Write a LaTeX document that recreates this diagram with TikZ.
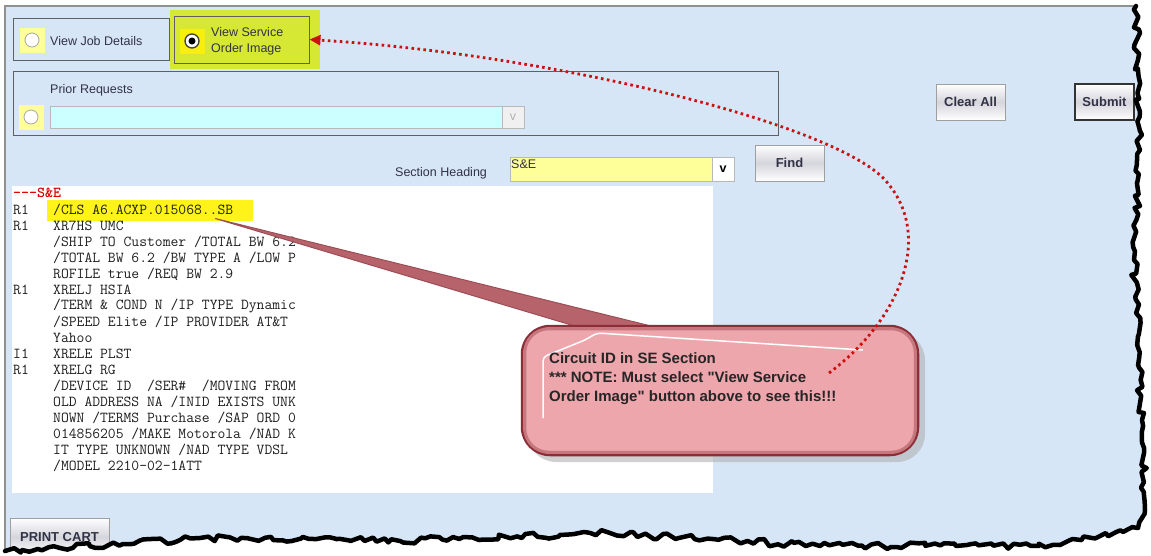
\documentclass[tikz,border=0pt]{standalone}
\usepackage{fontspec}
\setmainfont{Liberation Sans}
\usetikzlibrary{arrows.meta, decorations.pathmorphing, positioning}
\definecolor{panelblue}{RGB}{214,230,246}
\definecolor{framegray}{RGB}{96,96,96}
\definecolor{radioyellow}{RGB}{255,255,153}
\definecolor{limehi}{RGB}{214,232,52}
\definecolor{fieldcyan}{RGB}{204,255,255}
\definecolor{notepink}{RGB}{236,166,172}
\definecolor{notedark}{RGB}{140,45,55}
\definecolor{dotred}{RGB}{204,17,17}
\definecolor{uitext}{RGB}{50,50,70}
\newcommand{\uifnt}{\fontsize{12.5}{16}\selectfont}
\newcommand{\btnfnt}{\fontsize{13}{15}\selectfont\bfseries}
\newcommand{\monofnt}{\ttfamily\fontsize{15.2}{16}\selectfont}
\newcommand{\notefnt}{\fontsize{15}{19}\selectfont\bfseries}

\tikzset{
  uibox/.style={draw=framegray, line width=1pt},
  radiosq/.style={fill=radioyellow, minimum width=25pt, minimum height=25pt, inner sep=0pt},
  radiodot/.style={circle, fill=white, draw=gray!70, line width=0.8pt, minimum size=14pt, inner sep=0pt},
  fieldbox/.style={draw=gray!55, line width=0.8pt, inner sep=0pt},
  btnbox/.style={draw=gray!75, line width=0.9pt, top color=white, bottom color=white, middle color=blue!10!gray!30, inner sep=0pt, font=\btnfnt, text=uitext},
  uilabel/.style={anchor=west, inner sep=0pt, font=\uifnt, text=uitext},
  codeline/.style={anchor=west, inner sep=0pt, font=\monofnt, text=black!88},
  notebox/.style={rounded corners=28pt, fill=notepink, draw=notedark, line width=2.5pt},
  notetext/.style={anchor=north west, inner sep=0pt, align=left, font=\notefnt, text=black!85},
  dotline/.style={dotred, line width=2.8pt, dash pattern=on 2.6pt off 3.4pt, -{Triangle[length=11pt,width=10pt]}},
  tornedge/.style={decoration={random steps, segment length=6pt, amplitude=3.5pt}},
}

\begin{document}
\begin{tikzpicture}[x=1pt, y=-1pt]
\useasboundingbox (0,0) rectangle (1151,555);

% window panel
\fill[panelblue] (5,6) rectangle (1150,555);
\draw[framegray!70, line width=1.2pt] (5,555) -- (5,6) -- (1145,6);

% view choice
\draw[uibox] (13,18) rectangle (169,60);
\node[radiosq] (jobsq) at (32,40) {};
\node[radiodot] (jobdot) at (jobsq) {};
\node[uilabel] (joblbl) at (50,41) {View Job Details};

\node[fill=limehi, minimum width=150pt, minimum height=59pt, inner sep=0pt] (svcsel) at (245,39.5) {};
\node[uibox, minimum width=135pt, minimum height=47pt, inner sep=0pt] (svcbox) at (241.5,39.5) {};
\node[radiosq, fill=yellow!85!limehi] (svcsq) at (192,41) {};
\node[radiodot, draw=black!75, line width=1.3pt] (svcdot) at (svcsq) {};
\fill[black] (svcdot) circle (3.5);
\node[uilabel, align=left] (svclbl) at (211,41) {View Service\\Order Image};

% prior requests
\draw[uibox] (13,71) rectangle (778,135);
\node[uilabel] (priorlbl) at (50,90) {Prior Requests};
\node[radiosq] (priorsq) at (31,117) {};
\node[radiodot] (priordot) at (priorsq) {};
\node[fieldbox, fill=fieldcyan, minimum width=452pt, minimum height=22pt] (priorfld) at (276,117) {};
\node[fieldbox, fill=gray!12, minimum width=22pt, minimum height=22pt, font=\uifnt, text=gray!60] (priorv) at (513,117) {v};

\node[btnbox, minimum width=69pt, minimum height=36pt] (clear) at (970.5,102) {Clear All};
\node[btnbox, draw=black!80, line width=1.6pt, minimum width=59pt, minimum height=36pt] (submit) at (1104.5,102) {Submit};

% section heading
\node[uilabel] (seclbl) at (395,173) {Section Heading};
\node[fieldbox, fill=radioyellow, minimum width=202pt, minimum height=24pt] (secfld) at (611,169) {};
\node[uilabel, anchor=north west] (secval) at (511,160) {S\&E};
\node[fieldbox, fill=white, minimum width=22pt, minimum height=24pt, font=\uifnt\bfseries, text=black] (secv) at (723,169) {v};
\node[btnbox, minimum width=69pt, minimum height=36pt] (find) at (789.5,163) {Find};

% code area
\fill[white] (12,186) rectangle (713,493);
\node[fill=yellow!90, minimum width=206pt, minimum height=21pt, inner sep=0pt] (clshi) at (150,210.5) {};
\node[codeline, text=red!85!black, font=\monofnt\bfseries] (sechead) at (13,193) {---S\&E};
\foreach \r/\i in {R1/1, R1/2, R1/6, I1/10, R1/11}
  \node[codeline] (tag\i) at (13,194+16*\i) {\r};
\foreach \txt [count=\i] in {
  {/CLS A6.ACXP.015068..SB},
  {XR7HS UMC},
  {/SHIP TO Customer /TOTAL BW 6.2},
  {/TOTAL BW 6.2 /BW TYPE A /LOW P},
  {ROFILE true /REQ BW 2.9},
  {XRELJ HSIA},
  {/TERM \& COND N /IP TYPE Dynamic},
  {/SPEED Elite /IP PROVIDER AT\&T},
  {Yahoo},
  {XRELE PLST},
  {XRELG RG},
  {/DEVICE ID~~/SER\#~~/MOVING FROM},
  {OLD ADDRESS NA /INID EXISTS UNK},
  {NOWN /TERMS Purchase /SAP ORD 0},
  {014856205 /MAKE Motorola /NAD K},
  {IT TYPE UNKNOWN /NAD TYPE VDSL},
  {/MODEL 2210-02-1ATT}}
  \node[codeline] (code\i) at (53,194+16*\i) {\txt};

% callout
\coordinate (tailtip) at ([xshift=-38pt,yshift=-8pt]clshi.east);
\fill[notedark!55!notepink, draw=notedark!85, line width=1pt] (tailtip) -- (655,327) -- (588,330) -- cycle;
\fill[gray!60, opacity=0.6, rounded corners=28pt] (528,332) rectangle (925,462);
\node[notebox, minimum width=396pt, minimum height=129pt] (note) at (720,390.5) {};
\draw[notedark!40!notepink, line width=3pt, rounded corners=24pt] ([shift={(4pt,-4pt)}]note.north west) rectangle ([shift={(-4pt,4pt)}]note.south east);
\draw[white, line width=1.5pt, rounded corners=4pt] (543,418) -- (543,357) -- (585,340) -- (597,333) -- (863,350);
\node[notetext] (notetext) at (549,352) {Circuit ID in SE Section\\*** NOTE: Must select \textquotedbl View Service\\Order Image\textquotedbl{} button above to see this!!!};

\coordinate (noteend) at (829,373);
\draw[dotline] (noteend) .. controls (900,320) and (935,235) .. (885,180) .. controls (835,125) and (560,55) .. (svcbox.east);

\node[btnbox, minimum width=99pt, minimum height=38pt] (print) at (59.5,537) {PRINT CART};

% torn edge
\pgfmathsetseed{2718}
\fill[white] (1136,6) decorate[tornedge]{-- (1140,150) -- (1134,260) -- (1142,420) -- (1145,510) -- (1138,528) -- (1060,545) -- (820,546) -- (610,533) -- (400,541) -- (200,538) -- (60,548) -- (5,551)} -- (0,551) -- (0,560) -- (1160,560) -- (1160,0) -- (1136,0) -- cycle;
\pgfmathsetseed{2718}
\draw[line width=4.5pt, line join=round, line cap=round] (1136,6) decorate[tornedge]{-- (1140,150) -- (1134,260) -- (1142,420) -- (1145,510) -- (1138,528) -- (1060,545) -- (820,546) -- (610,533) -- (400,541) -- (200,538) -- (60,548) -- (5,551)};
\end{tikzpicture}
\end{document}
